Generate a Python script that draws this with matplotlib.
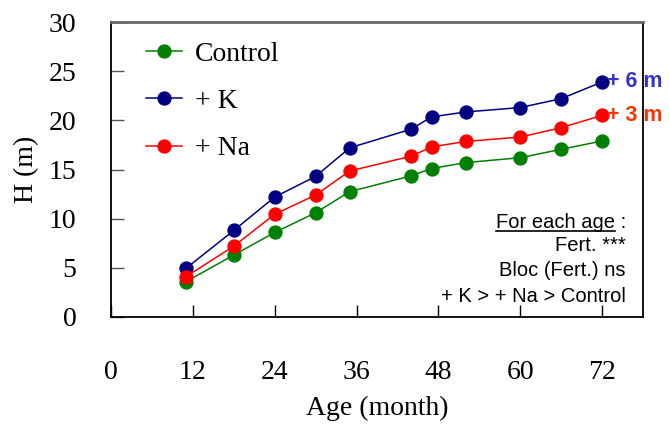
import numpy as np
import matplotlib
matplotlib.use("Agg")
import matplotlib.pyplot as plt
from matplotlib.lines import Line2D

# data
age = [11, 18, 24, 30, 35, 44, 47, 52, 60, 66, 72]
control = [3.6, 6.3, 8.6, 10.6, 12.75, 14.35, 15.1, 15.7, 16.2, 17.05, 17.9]
plusK = [4.95, 8.8, 12.2, 14.3, 17.2, 19.1, 20.35, 20.85, 21.3, 22.2, 23.9]
plusNa = [4.1, 7.2, 10.45, 12.4, 14.85, 16.35, 17.3, 17.85, 18.3, 19.25, 20.5]
xticks = [0, 12, 24, 36, 48, 60, 72]
yticks = [0, 5, 10, 15, 20, 25, 30]
stats_lines = ["Fert. ***", "Bloc (Fert.) ns", "+ K > + Na > Control"]

serif = ["Liberation Serif", "DejaVu Serif"]
sans = ["Liberation Sans", "DejaVu Sans"]

fig = plt.figure(figsize=(6.69, 4.25), dpi=100)
ax = fig.add_axes([111 / 669, 1 - 317 / 425, (643 - 111) / 669, (317 - 22) / 425])

ms = 9.3
ax.plot(age, control, "-o", color="#008000", lw=1.1, ms=ms, label="Control")
ax.plot(age, plusK, "-o", color="#000080", lw=1.1, ms=ms, label="+ K")
ax.plot(age, plusNa, "-o", color="#ff0000", lw=1.1, ms=ms, label="+ Na")

ax.set_xlim(0, 78)
ax.set_ylim(0, 30)
ax.set_xticks(xticks)
ax.set_yticks(yticks)
ax.tick_params(axis="x", direction="in", length=9, width=1, pad=31, labelsize=20)
ax.tick_params(axis="y", direction="in", length=9, width=1, pad=25, labelsize=20, color="#555555")
for lab in ax.get_xticklabels() + ax.get_yticklabels():
    lab.set_family(serif)
for side in ["left", "bottom", "right"]:
    ax.spines[side].set_color("black")
    ax.spines[side].set_linewidth(1.3)
ax.spines["top"].set_color("#666666")
ax.spines["top"].set_linewidth(2)

ax.set_xlabel("Age (month)", family=serif, fontsize=20, labelpad=8)
ax.set_ylabel("H (m)", family=serif, fontsize=20, labelpad=7)

leg = ax.legend(loc="upper left", frameon=False, prop={"family": serif, "size": 20},
                handlelength=1.3, handletextpad=0.45, labelspacing=0.78,
                bbox_to_anchor=(0.035, 0.99), borderaxespad=0.2)

# gain labels at the end of the lines
ax.text(72.7, plusK[-1], "+ 6 m", color="#3333cc", fontsize=15.5, fontweight="bold",
        family=sans, va="center", ha="left", clip_on=False)
ax.text(72.7, plusNa[-1], "+ 3 m", color="#ff3300", fontsize=15.5, fontweight="bold",
        family=sans, va="center", ha="left", clip_on=False)

# stats box
xr = 0.968
fs = 14.5
t0 = ax.text(xr, 0.322, "For each age :", transform=ax.transAxes, ha="right", va="center",
             family=sans, fontsize=fs)
for i, s in enumerate(stats_lines):
    ax.text(xr, 0.244 - i * 0.088, s, transform=ax.transAxes, ha="right", va="center",
            family=sans, fontsize=fs)

fig.canvas.draw()
r = fig.canvas.get_renderer()
bb = t0.get_window_extent(r)
# underline just "For each age"
tmp = ax.text(0, 0, " :", family=sans, fontsize=fs)
w_colon = tmp.get_window_extent(r).width
tmp.remove()
inv = fig.transFigure.inverted()
x0, y0 = inv.transform((bb.x0, bb.y0 + 1))
x1, _ = inv.transform((bb.x1 - w_colon, bb.y0 + 1))
fig.add_artist(Line2D([x0, x1], [y0, y0], color="black", lw=1.2, transform=fig.transFigure))

fig.savefig("out.png", dpi=100)
